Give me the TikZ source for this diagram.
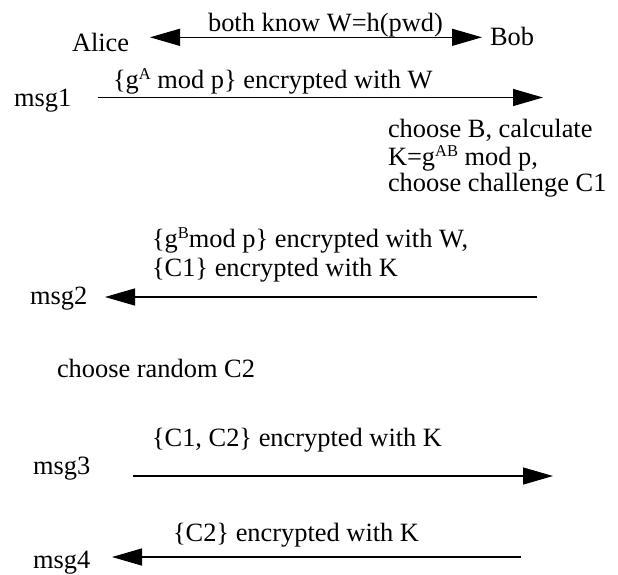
\documentclass[tikz,border=0pt]{standalone}
\usepackage{fontspec}
\setmainfont{Liberation Serif}
\usetikzlibrary{arrows.meta}
\newcommand{\supx}[1]{\raisebox{0.33em}{\fontsize{16.5}{16.5}\selectfont #1}}
\begin{document}
\begin{tikzpicture}[x=1pt,y=-1pt,
  txt/.style={inner sep=0pt,outer sep=0pt,anchor=base west,font=\fontsize{26.4}{27}\selectfont},
  msgline/.style={line width=1.3pt,-{Triangle[length=30pt,width=17pt]}},
  bothline/.style={line width=1.3pt,{Triangle[length=30pt,width=17pt]}-{Triangle[length=30pt,width=17pt]}}]
\useasboundingbox (0,0) rectangle (618,574);
% header
\node[txt] (alice) at (72,51.7) {Alice};
\node[txt] (bob) at (490,45) {Bob};
\node[txt,anchor=base] (both) at (325.5,31.7) {both know W=h(pwd)};
\coordinate (hl) at (150,37.3);
\coordinate (hr) at (482,37.3);
\draw[bothline] (hl) -- (hr);
% msg1
\node[txt] (m1) at (14,106.7) {msg1};
\node[txt] (m1lab) at (113,88) {\{g\supx{A} mod p\} encrypted with W};
\coordinate (m1s) at (98,97.5);
\coordinate (m1e) at (543,97.5);
\draw[msgline] (m1s) -- (m1e);
% Bob computes
\node[txt] (b1) at (388,137.7) {choose B, calculate};
\node[txt] (b2) at (388,165) {K=g\supx{AB} mod p,};
\node[txt] (b3) at (388,191.7) {choose challenge C1};
% msg2
\node[txt] (m2lab1) at (152,247.5) {\{g\supx{B}mod p\} encrypted with W,};
\node[txt] (m2lab2) at (152,276) {\{C1\} encrypted with K};
\node[txt] (m2) at (30,304) {msg2};
\coordinate (m2s) at (537,297);
\coordinate (m2e) at (105,297);
\draw[msgline] (m2s) -- (m2e);
% Alice computes
\node[txt] (c2) at (57,377) {choose random C2};
% msg3
\node[txt] (m3lab) at (152,446) {\{C1, C2\} encrypted with K};
\node[txt] (m3) at (33,474) {msg3};
\coordinate (m3s) at (133,476);
\coordinate (m3e) at (553,476);
\draw[msgline] (m3s) -- (m3e);
% msg4
\node[txt] (m4lab) at (173,541) {\{C2\} encrypted with K};
\node[txt] (m4) at (33,568) {msg4};
\coordinate (m4s) at (521,557);
\coordinate (m4e) at (112,557);
\draw[msgline] (m4s) -- (m4e);
\end{tikzpicture}
\end{document}
